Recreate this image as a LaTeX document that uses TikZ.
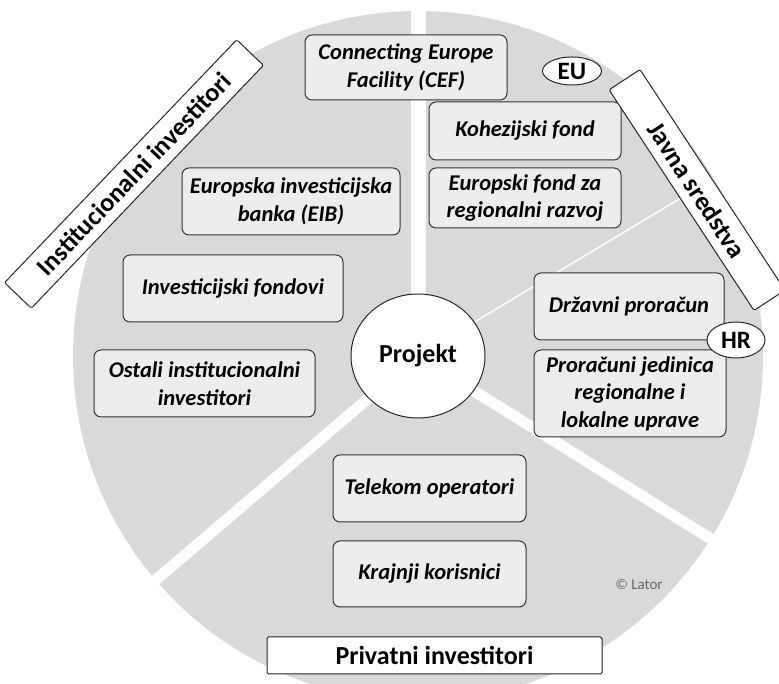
\documentclass[tikz,border=0pt]{standalone}
\usepackage{fontspec}
\setmainfont{Carlito}
\usepackage{tikz}
\usetikzlibrary{shapes.geometric, positioning, calc}

\tikzset{
  box/.style={draw=black!80, line width=1pt, rounded corners=7pt, fill=black!7,
    align=center, inner sep=0pt, font=\fontsize{22.5}{27.5}\selectfont\bfseries\itshape},
  tagbox/.style={draw=black!85, line width=1pt, fill=white, rounded corners=1.5pt,
    inner sep=0pt, minimum height=37pt, font=\fontsize{26}{30}\selectfont\bfseries},
  oval/.style={ellipse, draw=black!85, line width=1pt, fill=white, inner sep=0pt,
    font=\fontsize{25}{28}\selectfont\bfseries},
  gap/.style={white, line width=11pt}
}

\begin{document}
\begin{tikzpicture}[x=1pt,y=1pt]
\clip (0,0) rectangle (779,684);
\coordinate (c) at (418,328);
\fill [black!15] (c) circle (345);

% razdjelnice
\coordinate (g1) at ($ (c) + (90:380) $);
\coordinate (g2) at ($ (c) + (220.5:380) $);
\coordinate (g3) at ($ (c) + (-32:380) $);
\coordinate (g4) at ($ (c) + (31:345) $);
\draw [gap, line width=15pt] (c) -- (g1);
\draw [gap] (c) -- (g2);
\draw [gap] (c) -- (g3);
\draw [white, line width=1.5pt] (c) -- (g4);

\node (projekt) [ellipse, draw=black!85, line width=1pt, fill=white, minimum width=134pt, minimum height=124pt,
  font=\fontsize{26}{30}\selectfont\bfseries] at (c) {Projekt};

% EU
\node (cef) [box, minimum width=202pt, minimum height=65pt] at (406,616.5) {Connecting Europe\\Facility (CEF)};
\node (koh) [box, minimum width=192pt, minimum height=58pt] at (525,553) {Kohezijski fond};
\node (efrr) [box, minimum width=192pt, minimum height=60pt] at (525,486) {Europski fond za\\regionalni razvoj};
\node (eu) [oval, minimum width=59pt, minimum height=28pt] at (572,613) {EU};

% institucionalni
\node (eib) [box, minimum width=218pt, minimum height=67pt] at (291,482.5) {Europska investicijska\\banka (EIB)};
\node (fond) [box, minimum width=220pt, minimum height=67pt] at (233,395.5) {Investicijski fondovi};
\node (ostali) [box, minimum width=221pt, minimum height=67pt] at (204.5,300.5) {Ostali institucionalni\\investitori};

% HR
\node (drz) [box, minimum width=190pt, minimum height=67pt] at (629,377.5) {Državni proračun};
\node (jls) [box, minimum width=192pt, minimum height=87pt] at (630,290.5) {Proračuni jedinica\\regionalne i\\lokalne uprave};
\node (hr) [oval, minimum width=58pt, minimum height=36pt] at (736,344) {HR};

% privatni
\node (tel) [box, minimum width=193pt, minimum height=67pt] at (429.5,195.5) {Telekom operatori};
\node (kor) [box, minimum width=193pt, minimum height=66pt] at (429.5,110) {Krajnji korisnici};

% natpisi
\node (inst) [tagbox, minimum width=336pt, rotate=46.3] at (134,510) {Institucionalni investitori};
\node (javna) [tagbox, minimum width=264pt, rotate=-56.7] at (697,494) {Javna sredstva};
\node (priv) [tagbox, minimum width=335pt] at (434.5,28.5) {Privatni investitori};

\node (lator) [text=black!60, font=\fontsize{15}{17}\selectfont] at (639,100) {© Lator};
\end{tikzpicture}
\end{document}
